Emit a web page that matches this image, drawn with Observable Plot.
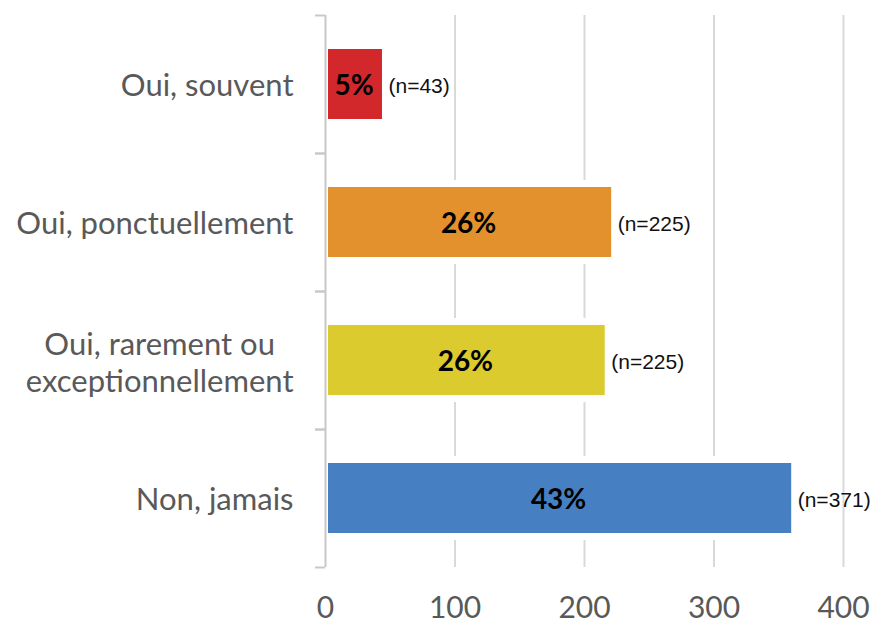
<!DOCTYPE html>
<html><head><meta charset="utf-8">
<script src="https://cdn.jsdelivr.net/npm/d3@7"></script>
<script src="https://cdn.jsdelivr.net/npm/@observablehq/plot@0.6"></script>
<style>body{margin:0;background:#fff}</style>
</head><body><div id="chart"></div>
<script>
const categories = ["Oui, souvent", "Oui, ponctuellement", "Oui, rarement ou\nexceptionnellement", "Non, jamais"];
const counts = [44, 221, 216, 360];
const percents = ["5%", "26%", "26%", "43%"];
const nLabels = ["(n=43)", "(n=225)", "(n=225)", "(n=371)"];
const colors = ["#d2282c", "#e3912d", "#dccb2f", "#4780c2"];
const xTicks = [0, 100, 200, 300, 400];

const data = categories.map((c, i) => ({category: c, value: counts[i], pct: percents[i], n: nLabels[i], color: colors[i]}));

const W = 884, H = 624, mT = 15, mB = 57, mL = 325, mR = 41;
const bw = (H - mT - mB) / categories.length;
const barH = 70;
const inset = (bw - barH) / 2;

const labelFont = "Lato";
const labelSize = 31;
const single = categories.filter(c => !c.includes("\n"));
const multi = categories.filter(c => c.includes("\n"));
const ctx = document.createElement("canvas").getContext("2d");
ctx.font = `${labelSize}px ${labelFont}`;
const multiHalf = multi.length ? d3.max(multi[0].split("\n"), s => ctx.measureText(s).width) / 2 : 0;

const plot = Plot.plot({
  width: W, height: H, marginTop: mT, marginBottom: mB, marginLeft: mL, marginRight: mR,
  style: {background: "#fff"},
  x: {domain: [0, 400], ticks: xTicks},
  y: {domain: categories, padding: 0},
  color: {type: "identity"},
  marks: [
    Plot.ruleX(xTicks.slice(1), {stroke: "#d9d9d9", strokeWidth: 2}),
    Plot.barX(data, {x: "value", y: "category", fill: "#fff", insetTop: inset - 7, insetBottom: inset - 7}),
    Plot.ruleX([0], {stroke: "#c8c8c8", strokeWidth: 2}),
    Plot.axisY({tickSize: 10, dy: -bw / 2, fill: "none", stroke: "#c8c8c8", strokeWidth: 2, label: null}),
    Plot.axisY({tickSize: 10, dy: bw / 2, fill: "none", stroke: "#c8c8c8", strokeWidth: 2, label: null}),
    Plot.barX(data, {x: "value", y: "category", fill: "color", insetTop: inset, insetBottom: inset, insetLeft: 3}),
    Plot.axisY(single, {tickSize: 0, tickPadding: 32, dy: 2, label: null, fontSize: labelSize, fill: "#595959", fontFamily: labelFont}),
    Plot.axisY(multi, {tickSize: 0, tickPadding: 32, dx: -multiHalf, dy: 1, textAnchor: "middle", label: null, fontSize: labelSize, fill: "#595959", fontFamily: labelFont, lineHeight: 1.2}),
    Plot.axisX(xTicks, {tickSize: 0, tickPadding: 29, label: null, fontSize: 30, fill: "#595959", fontFamily: labelFont}),
    Plot.text(data, {x: d => d.value / 2, y: "category", text: "pct", dy: 2, fontWeight: "bold", fontSize: 28, fontFamily: labelFont, fill: "#000"}),
    Plot.text(data, {x: "value", y: "category", text: "n", textAnchor: "start", dx: 6, dy: 2, fontSize: 21, fontFamily: "Liberation Sans", fill: "#111"})
  ]
});
document.getElementById("chart").append(plot);
</script>
</body></html>
